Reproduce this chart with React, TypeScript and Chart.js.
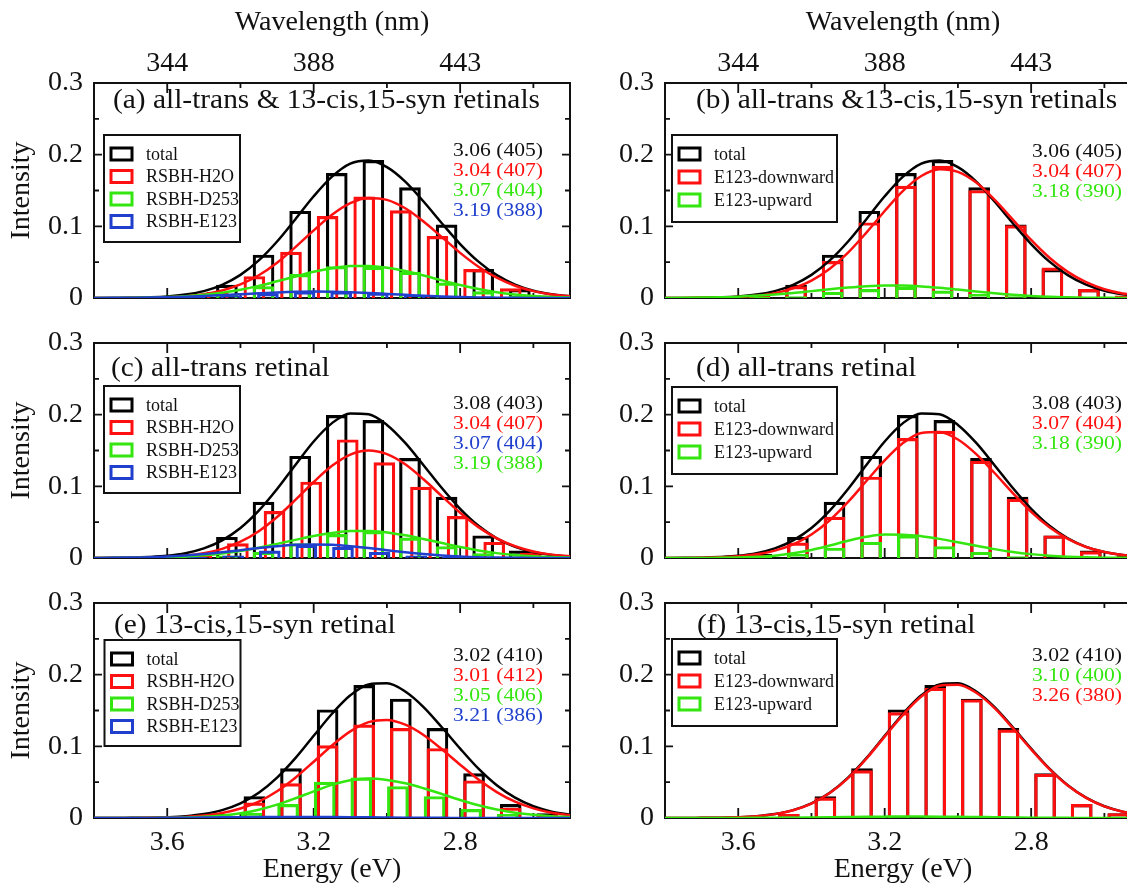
import React, { useEffect, useRef } from "react";
import { Chart, registerables } from "chart.js";

Chart.register(...registerables);

const FONT = "'Liberation Serif', 'Times New Roman', Times, serif";
const INK = "#111111";
const BLACK = "#000000";
const RED = "#ff1010";
const GREEN = "#33e60f";
const BLUE = "#1f3fcc";

// ---------- axes / ticks ----------
const BIN_CENTERS = [3.75, 3.65, 3.55, 3.45, 3.35, 3.25, 3.15, 3.05, 2.95, 2.85, 2.75, 2.65, 2.55];
const FIT_ENERGY = [3.8, 3.75, 3.7, 3.65, 3.6, 3.55, 3.5, 3.45, 3.4, 3.35, 3.3, 3.25, 3.2, 3.15, 3.1, 3.05, 3.0, 2.95, 2.9, 2.85, 2.8, 2.75, 2.7, 2.65, 2.6, 2.55, 2.5];
const ENERGY_TICKS = [3.6, 3.2, 2.8];
const ENERGY_MINOR = [3.4, 3.0, 2.6];
const ENERGY_TICK_LABELS = ["3.6", "3.2", "2.8"];
const WAVELENGTH_TICK_LABELS = ["344", "388", "443"];
const INTENSITY_TICKS = [0, 0.1, 0.2, 0.3];
const INTENSITY_MINOR = [0.05, 0.15, 0.25];
const INTENSITY_TICK_LABELS = ["0", "0.1", "0.2", "0.3"];

// ---------- histogram bars (per bin) ----------
const AB_TOTAL_BARS = [0, 0.001, 0.004, 0.018, 0.060, 0.121, 0.174, 0.192, 0.154, 0.102, 0.040, 0.012, 0.002];
const A_H2O_BARS = [0, 0, 0.002, 0.008, 0.030, 0.064, 0.114, 0.141, 0.122, 0.086, 0.040, 0.013, 0.003];
const A_D253_BARS = [0, 0, 0.001, 0.004, 0.016, 0.033, 0.044, 0.043, 0.036, 0.021, 0.009, 0.003, 0];
const A_E123_BARS = [0, 0, 0.001, 0.003, 0.006, 0.009, 0.009, 0.007, 0.004, 0.002, 0.001, 0, 0];
const B_DOWN_BARS = [0, 0, 0.003, 0.016, 0.051, 0.105, 0.156, 0.184, 0.150, 0.101, 0.042, 0.012, 0.003];
const B_UP_BARS = [0, 0, 0.001, 0.002, 0.008, 0.012, 0.015, 0.010, 0.005, 0.002, 0, 0, 0];
const CD_TOTAL_BARS = [0, 0.001, 0.005, 0.029, 0.078, 0.142, 0.199, 0.192, 0.139, 0.085, 0.031, 0.010, 0.003];
const C_H2O_BARS = [0, 0, 0.003, 0.020, 0.065, 0.106, 0.165, 0.133, 0.099, 0.058, 0.022, 0.007, 0.002];
const C_D253_BARS = [0, 0, 0.001, 0.003, 0.008, 0.020, 0.033, 0.037, 0.028, 0.016, 0.006, 0.002, 0];
const C_E123_BARS = [0, 0, 0.001, 0.003, 0.010, 0.018, 0.015, 0.008, 0.003, 0.001, 0, 0, 0];
const D_DOWN_BARS = [0, 0, 0.004, 0.021, 0.057, 0.113, 0.167, 0.177, 0.135, 0.082, 0.031, 0.009, 0.002];
const D_UP_BARS = [0, 0, 0.001, 0.005, 0.014, 0.022, 0.031, 0.016, 0.008, 0.002, 0, 0, 0];
const EF_TOTAL_BARS = [0, 0, 0.001, 0.005, 0.030, 0.069, 0.151, 0.185, 0.166, 0.125, 0.062, 0.019, 0.006];
const E_H2O_BARS = [0, 0, 0, 0.002, 0.021, 0.048, 0.101, 0.130, 0.125, 0.097, 0.052, 0.014, 0.004];
const E_D253_BARS = [0, 0, 0, 0.001, 0.007, 0.019, 0.050, 0.056, 0.044, 0.030, 0.012, 0.005, 0.001];
const E_E123_BARS = [0, 0, 0, 0, 0.001, 0.001, 0.001, 0, 0, 0, 0, 0, 0];
const F_DOWN_BARS = [0, 0, 0.001, 0.005, 0.028, 0.066, 0.147, 0.181, 0.165, 0.123, 0.061, 0.019, 0.006];
const F_UP_BARS = [0, 0, 0, 0, 0.001, 0.002, 0.002, 0.002, 0.002, 0.001, 0.001, 0, 0];

// ---------- fitted curves (on FIT_ENERGY) ----------
const AB_TOTAL_FIT = [0, 0.0001, 0.0003, 0.0009, 0.0021, 0.0048, 0.0096, 0.0184, 0.0323, 0.0524, 0.0789, 0.110, 0.1419, 0.1693, 0.1874, 0.1918, 0.1826, 0.1624, 0.1346, 0.1043, 0.0753, 0.0507, 0.0319, 0.0187, 0.0102, 0.0052, 0.0025];
const A_H2O_FIT = [0, 0.0001, 0.0002, 0.0004, 0.0011, 0.0025, 0.0053, 0.0105, 0.0189, 0.0318, 0.0493, 0.0710, 0.0944, 0.1162, 0.1324, 0.1397, 0.1369, 0.1252, 0.1067, 0.0850, 0.0630, 0.0437, 0.0283, 0.0171, 0.0096, 0.0050, 0.0025];
const A_D253_FIT = [0.0001, 0.0001, 0.0003, 0.0007, 0.0014, 0.0026, 0.0045, 0.0074, 0.0115, 0.0169, 0.0233, 0.0300, 0.0365, 0.0415, 0.0445, 0.0448, 0.0423, 0.0376, 0.0314, 0.0246, 0.0181, 0.0125, 0.0081, 0.0050, 0.0029, 0.0015, 0.0008];
const A_E123_FIT = [0.0001, 0.0002, 0.0004, 0.0006, 0.0011, 0.0018, 0.0027, 0.0039, 0.0052, 0.0065, 0.0077, 0.0086, 0.0090, 0.0088, 0.0081, 0.0070, 0.0057, 0.0044, 0.0031, 0.0021, 0.0013, 0.0008, 0.0005, 0.0002, 0.0001, 0, 0];
const B_DOWN_FIT = [0, 0.0001, 0.0003, 0.0005, 0.0014, 0.0032, 0.0068, 0.0135, 0.0243, 0.0409, 0.0634, 0.0913, 0.1214, 0.1494, 0.1702, 0.1796, 0.1760, 0.1610, 0.1372, 0.1093, 0.0810, 0.0562, 0.0364, 0.0220, 0.0123, 0.0064, 0.0032];
const B_UP_FIT = [0.0001, 0.0003, 0.0006, 0.0011, 0.0019, 0.0033, 0.0049, 0.0070, 0.0096, 0.0122, 0.0146, 0.0165, 0.0174, 0.0173, 0.0162, 0.0142, 0.0117, 0.0090, 0.0066, 0.0045, 0.0029, 0.0017, 0.0010, 0.0005, 0.0003, 0.0001, 0];
const CD_TOTAL_FIT = [0.0001, 0.0002, 0.0005, 0.0014, 0.0031, 0.0067, 0.0134, 0.0246, 0.0418, 0.0660, 0.0962, 0.1299, 0.1626, 0.1882, 0.2018, 0.2006, 0.1857, 0.1606, 0.1295, 0.0976, 0.0686, 0.0449, 0.0274, 0.0156, 0.0083, 0.0041, 0.0019];
const C_H2O_FIT = [0, 0.0001, 0.0002, 0.0006, 0.0014, 0.0032, 0.0066, 0.0128, 0.0227, 0.0374, 0.0572, 0.0810, 0.1061, 0.1286, 0.1443, 0.1500, 0.1449, 0.1307, 0.1098, 0.0863, 0.0632, 0.0431, 0.0275, 0.0164, 0.0091, 0.0047, 0.0023];
const C_D253_FIT = [0.0001, 0.0001, 0.0003, 0.0006, 0.0012, 0.0022, 0.0038, 0.0062, 0.0097, 0.0143, 0.0197, 0.0253, 0.0308, 0.0350, 0.0376, 0.0378, 0.0357, 0.0317, 0.0265, 0.0208, 0.0153, 0.0106, 0.0068, 0.0042, 0.0024, 0.0013, 0.0007];
const C_E123_FIT = [0.0001, 0.0003, 0.0006, 0.0011, 0.0021, 0.0035, 0.0055, 0.0080, 0.0109, 0.0139, 0.0165, 0.0184, 0.0190, 0.0184, 0.0165, 0.0139, 0.0109, 0.0080, 0.0055, 0.0035, 0.0021, 0.0011, 0.0006, 0.0003, 0.0001, 0.0001, 0];
const D_DOWN_FIT = [0, 0.0001, 0.0004, 0.0010, 0.0023, 0.0051, 0.0103, 0.0191, 0.0329, 0.0527, 0.0782, 0.1074, 0.1363, 0.1604, 0.1745, 0.1759, 0.1653, 0.1450, 0.1186, 0.0906, 0.0644, 0.0428, 0.0266, 0.0154, 0.0083, 0.0042, 0.0020];
const D_UP_FIT = [0, 0, 0.0001, 0.0002, 0.0007, 0.0016, 0.0033, 0.0065, 0.0112, 0.0174, 0.0240, 0.0296, 0.0327, 0.0326, 0.0305, 0.0267, 0.0220, 0.0171, 0.0124, 0.0084, 0.0054, 0.0033, 0.0019, 0.0010, 0.0005, 0.0002, 0.0001];
const EF_TOTAL_FIT = [0, 0, 0.0002, 0.0004, 0.0011, 0.0025, 0.0055, 0.0110, 0.0204, 0.0352, 0.0563, 0.0835, 0.1147, 0.1455, 0.1712, 0.1864, 0.1879, 0.1765, 0.1548, 0.1266, 0.0968, 0.0688, 0.0457, 0.0284, 0.0164, 0.0089, 0.0045];
const E_H2O_FIT = [0, 0, 0.0001, 0.0002, 0.0006, 0.0015, 0.0034, 0.0069, 0.0132, 0.0230, 0.0374, 0.0563, 0.0785, 0.1012, 0.1208, 0.1337, 0.1369, 0.1303, 0.1159, 0.0960, 0.0744, 0.0537, 0.0362, 0.0227, 0.0134, 0.0073, 0.0037];
const E_D253_FIT = [0, 0, 0, 0.0001, 0.0003, 0.0007, 0.0016, 0.0034, 0.0066, 0.0116, 0.0186, 0.0275, 0.0372, 0.0462, 0.0527, 0.0550, 0.0530, 0.0485, 0.0415, 0.0334, 0.0252, 0.0179, 0.0119, 0.0074, 0.0044, 0.0024, 0.0013];
const E_E123_FIT = [0, 0, 0, 0.0001, 0.0002, 0.0004, 0.0006, 0.0009, 0.0012, 0.0014, 0.0015, 0.0015, 0.0015, 0.0014, 0.0012, 0.0009, 0.0007, 0.0005, 0.0003, 0.0002, 0.0001, 0, 0, 0, 0, 0, 0];
const F_DOWN_FIT = [0, 0, 0.0002, 0.0004, 0.0011, 0.0025, 0.0054, 0.0109, 0.0202, 0.0348, 0.0557, 0.0827, 0.1136, 0.1440, 0.1695, 0.1845, 0.1860, 0.1747, 0.1533, 0.1253, 0.0958, 0.0681, 0.0452, 0.0281, 0.0162, 0.0088, 0.0045];
const F_UP_FIT = [0, 0, 0, 0, 0.0001, 0.0002, 0.0003, 0.0005, 0.0008, 0.0011, 0.0014, 0.0017, 0.0019, 0.0020, 0.0020, 0.0019, 0.0017, 0.0014, 0.0011, 0.0008, 0.0005, 0.0003, 0.0002, 0.0001, 0, 0, 0];

// ---------- panel texts ----------
const TITLES = [
  "(a) all-trans & 13-cis,15-syn retinals",
  "(b) all-trans &13-cis,15-syn retinals",
  "(c) all-trans retinal",
  "(d) all-trans retinal",
  "(e) 13-cis,15-syn retinal",
  "(f) 13-cis,15-syn retinal",
];
const LEFT_LABELS = ["total", "RSBH-H2O", "RSBH-D253", "RSBH-E123"];
const RIGHT_LABELS = ["total", "E123-downward", "E123-upward"];

type Series = { label: string; color: string; bars: number[]; fit: number[]; shift: number };
type Note = { text: string; color: string };
type Panel = {
  key: string; row: number; col: number; title: string;
  series: Series[]; notes: Note[];
  titleDx: number; titleDy: number;
  legendDx: number; legendDy: number; legendW: number; legendH: number; legendGap: number;
  notesDx: number; notesDy: number;
};

const COLS = [
  { x: 0, axisW: 94, width: 573 },
  { x: 600, axisW: 65, width: 544 },
];
const ROWS = [
  { y: 0, topH: 83, bottomH: 17, height: 315 },
  { y: 320, topH: 23, bottomH: 17, height: 255 },
  { y: 580, topH: 23, bottomH: 70, height: 308 },
];

const PANELS: Panel[] = [
  {
    key: "a", row: 0, col: 0, title: TITLES[0],
    series: [
      { label: LEFT_LABELS[0], color: BLACK, bars: AB_TOTAL_BARS, fit: AB_TOTAL_FIT, shift: -0.013 },
      { label: LEFT_LABELS[1], color: RED, bars: A_H2O_BARS, fit: A_H2O_FIT, shift: 0.012 },
      { label: LEFT_LABELS[2], color: GREEN, bars: A_D253_BARS, fit: A_D253_FIT, shift: -0.013 },
      { label: LEFT_LABELS[3], color: BLUE, bars: A_E123_BARS, fit: A_E123_FIT, shift: -0.025 },
    ],
    notes: [
      { text: "3.06 (405)", color: INK }, { text: "3.04 (407)", color: RED },
      { text: "3.07 (404)", color: GREEN }, { text: "3.19 (388)", color: BLUE },
    ],
    titleDx: 19, titleDy: 25, legendDx: 10, legendDy: 52, legendW: 136, legendH: 107, legendGap: 22.5,
    notesDx: -27, notesDy: 73,
  },
  {
    key: "b", row: 0, col: 1, title: TITLES[1],
    series: [
      { label: RIGHT_LABELS[0], color: BLACK, bars: AB_TOTAL_BARS, fit: AB_TOTAL_FIT, shift: -0.008 },
      { label: RIGHT_LABELS[1], color: RED, bars: B_DOWN_BARS, fit: B_DOWN_FIT, shift: -0.008 },
      { label: RIGHT_LABELS[2], color: GREEN, bars: B_UP_BARS, fit: B_UP_FIT, shift: -0.008 },
    ],
    notes: [
      { text: "3.06 (405)", color: INK }, { text: "3.04 (407)", color: RED },
      { text: "3.18 (390)", color: GREEN },
    ],
    titleDx: 31, titleDy: 25, legendDx: 7, legendDy: 52, legendW: 165, legendH: 87, legendGap: 23,
    notesDx: -19, notesDy: 74,
  },
  {
    key: "c", row: 1, col: 0, title: TITLES[2],
    series: [
      { label: LEFT_LABELS[0], color: BLACK, bars: CD_TOTAL_BARS, fit: CD_TOTAL_FIT, shift: -0.013 },
      { label: LEFT_LABELS[1], color: RED, bars: C_H2O_BARS, fit: C_H2O_FIT, shift: -0.043 },
      { label: LEFT_LABELS[2], color: GREEN, bars: C_D253_BARS, fit: C_D253_FIT, shift: -0.013 },
      { label: LEFT_LABELS[3], color: BLUE, bars: C_E123_BARS, fit: C_E123_FIT, shift: -0.03 },
    ],
    notes: [
      { text: "3.08 (403)", color: INK }, { text: "3.04 (407)", color: RED },
      { text: "3.07 (404)", color: BLUE }, { text: "3.19 (388)", color: GREEN },
    ],
    titleDx: 17, titleDy: 33, legendDx: 10, legendDy: 43, legendW: 136, legendH: 107, legendGap: 22.5,
    notesDx: -27, notesDy: 66,
  },
  {
    key: "d", row: 1, col: 1, title: TITLES[3],
    series: [
      { label: RIGHT_LABELS[0], color: BLACK, bars: CD_TOTAL_BARS, fit: CD_TOTAL_FIT, shift: -0.013 },
      { label: RIGHT_LABELS[1], color: RED, bars: D_DOWN_BARS, fit: D_DOWN_FIT, shift: -0.013 },
      { label: RIGHT_LABELS[2], color: GREEN, bars: D_UP_BARS, fit: D_UP_FIT, shift: -0.013 },
    ],
    notes: [
      { text: "3.08 (403)", color: INK }, { text: "3.07 (404)", color: RED },
      { text: "3.18 (390)", color: GREEN },
    ],
    titleDx: 31, titleDy: 33, legendDx: 7, legendDy: 44, legendW: 165, legendH: 87, legendGap: 23,
    notesDx: -19, notesDy: 66,
  },
  {
    key: "e", row: 2, col: 0, title: TITLES[4],
    series: [
      { label: LEFT_LABELS[0], color: BLACK, bars: EF_TOTAL_BARS, fit: EF_TOTAL_FIT, shift: 0.012 },
      { label: LEFT_LABELS[1], color: RED, bars: E_H2O_BARS, fit: E_H2O_FIT, shift: 0.012 },
      { label: LEFT_LABELS[2], color: GREEN, bars: E_D253_BARS, fit: E_D253_FIT, shift: 0.02 },
      { label: LEFT_LABELS[3], color: BLUE, bars: E_E123_BARS, fit: E_E123_FIT, shift: 0.012 },
    ],
    notes: [
      { text: "3.02 (410)", color: INK }, { text: "3.01 (412)", color: RED },
      { text: "3.05 (406)", color: GREEN }, { text: "3.21 (386)", color: BLUE },
    ],
    titleDx: 20, titleDy: 30, legendDx: 10.5, legendDy: 37, legendW: 136, legendH: 106, legendGap: 22.5,
    notesDx: -27, notesDy: 58,
  },
  {
    key: "f", row: 2, col: 1, title: TITLES[5],
    series: [
      { label: RIGHT_LABELS[0], color: BLACK, bars: EF_TOTAL_BARS, fit: EF_TOTAL_FIT, shift: 0.012 },
      { label: RIGHT_LABELS[1], color: RED, bars: F_DOWN_BARS, fit: F_DOWN_FIT, shift: 0.012 },
      { label: RIGHT_LABELS[2], color: GREEN, bars: F_UP_BARS, fit: F_UP_FIT, shift: 0.012 },
    ],
    notes: [
      { text: "3.02 (410)", color: INK }, { text: "3.10 (400)", color: GREEN },
      { text: "3.26 (380)", color: RED },
    ],
    titleDx: 32, titleDy: 30, legendDx: 7, legendDy: 36, legendW: 165, legendH: 87, legendGap: 23,
    notesDx: -19, notesDy: 58,
  },
];

function buildConfig(panel: Panel) {
  const row = ROWS[panel.row];
  const col = COLS[panel.col];
  const n = panel.series.length;

  const barSets = panel.series.map((s, k) => ({
    type: "bar",
    label: s.label,
    data: BIN_CENTERS.map((e, i) => ({ x: e + s.shift, y: s.bars[i] })),
    backgroundColor: "rgba(255,255,255,0)",
    borderColor: s.color,
    borderWidth: 2.5,
    barThickness: 21,
    grouped: false,
    order: 20 + n - k,
    xAxisID: "x",
    yAxisID: "y",
  }));
  const lineSets = panel.series.map((s, k) => ({
    type: "line",
    label: s.label + " fit",
    data: FIT_ENERGY.map((e, i) => ({ x: e, y: s.fit[i] })),
    borderColor: s.color,
    backgroundColor: s.color,
    borderWidth: 2.5,
    pointRadius: 0,
    cubicInterpolationMode: "monotone",
    fill: false,
    order: 1 + n - k,
    xAxisID: "x",
    yAxisID: "y",
  }));

  const tickFont = { family: FONT, size: 28 };
  const titleFont = { family: FONT, size: 28 };

  const decor = {
    id: "decor" + panel.key,
    beforeDatasetsDraw(chart: any) {
      const { ctx, chartArea: a } = chart;
      const xs = chart.scales.x;
      const ys = chart.scales.y;
      ctx.save();
      ctx.strokeStyle = INK;
      ctx.lineWidth = 2;
      ctx.strokeRect(a.left, a.top, a.right - a.left, a.bottom - a.top);
      ctx.lineWidth = 1.8;
      ctx.beginPath();
      const xt = (v: number, len: number) => {
        const p = xs.getPixelForValue(v);
        ctx.moveTo(p, a.bottom);
        ctx.lineTo(p, a.bottom - len);
        ctx.moveTo(p, a.top);
        ctx.lineTo(p, a.top + len);
      };
      const yt = (v: number, len: number) => {
        const p = ys.getPixelForValue(v);
        ctx.moveTo(a.left, p);
        ctx.lineTo(a.left + len, p);
        ctx.moveTo(a.right, p);
        ctx.lineTo(a.right - len, p);
      };
      ENERGY_TICKS.forEach((v) => xt(v, 10));
      ENERGY_MINOR.forEach((v) => xt(v, 5));
      INTENSITY_TICKS.slice(1, 3).forEach((v) => yt(v, 8));
      INTENSITY_MINOR.forEach((v) => yt(v, 5));
      ctx.stroke();
      ctx.restore();
    },
    afterDatasetsDraw(chart: any) {
      const { ctx, chartArea: a } = chart;
      ctx.save();
      // panel title
      ctx.fillStyle = INK;
      ctx.font = `28px ${FONT}`;
      ctx.textAlign = "left";
      ctx.textBaseline = "alphabetic";
      ctx.save();
      ctx.translate(a.left + panel.titleDx, a.top + panel.titleDy);
      ctx.scale(1.05, 1);
      ctx.fillText(panel.title, 0, 0);
      ctx.restore();

      // legend
      const lx = a.left + panel.legendDx;
      const ly = a.top + panel.legendDy;
      ctx.fillStyle = "#ffffff";
      ctx.fillRect(lx, ly, panel.legendW, panel.legendH);
      ctx.strokeStyle = INK;
      ctx.lineWidth = 2;
      ctx.strokeRect(lx, ly, panel.legendW, panel.legendH);
      ctx.font = `18px ${FONT}`;
      ctx.textBaseline = "middle";
      panel.series.forEach((s, k) => {
        const cy = ly + 19 + k * panel.legendGap;
        ctx.strokeStyle = s.color;
        ctx.lineWidth = 3;
        ctx.strokeRect(lx + 7, cy - 6, 21, 12);
        ctx.fillStyle = INK;
        ctx.fillText(s.label, lx + 42, cy + 1);
      });

      // peak notes
      ctx.font = `18px ${FONT}`;
      ctx.textAlign = "right";
      ctx.textBaseline = "alphabetic";
      panel.notes.forEach((nt, k) => {
        ctx.save();
        ctx.translate(a.right + panel.notesDx, a.top + panel.notesDy + k * 20);
        ctx.scale(1.2, 1);
        ctx.fillStyle = nt.color;
        ctx.fillText(nt.text, 0, 0);
        ctx.restore();
      });
      ctx.restore();
    },
  };

  const energyLabel = (v: any) => {
    const i = ENERGY_TICKS.indexOf(Number(v));
    return i >= 0 ? ENERGY_TICK_LABELS[i] : "";
  };
  const waveLabel = (v: any) => {
    const i = ENERGY_TICKS.indexOf(Number(v));
    return i >= 0 ? WAVELENGTH_TICK_LABELS[i] : "";
  };
  const intensityLabel = (v: any) => {
    const i = INTENSITY_TICKS.indexOf(Number(v));
    return i >= 0 ? INTENSITY_TICK_LABELS[i] : "";
  };

  return {
    type: "bar",
    data: { datasets: [...barSets, ...lineSets] },
    plugins: [decor],
    options: {
      responsive: false,
      maintainAspectRatio: false,
      animation: false,
      devicePixelRatio: 1,
      layout: { padding: { left: 0, right: 3, top: 0, bottom: 0 } },
      plugins: { legend: { display: false }, tooltip: { enabled: false }, title: { display: false } },
      scales: {
        x: {
          type: "linear",
          position: "bottom",
          min: 2.5,
          max: 3.8,
          reverse: true,
          offset: false,
          grid: { display: false, drawTicks: false, offset: false },
          border: { display: false },
          afterBuildTicks: (s: any) => {
            s.ticks = ENERGY_TICKS.map((v) => ({ value: v }));
          },
          ticks: {
            display: panel.row === 2,
            font: tickFont,
            color: INK,
            padding: 8,
            maxRotation: 0,
            autoSkip: false,
            callback: energyLabel,
          },
          title: {
            display: panel.row === 2,
            text: "Energy (eV)",
            font: titleFont,
            color: INK,
            padding: { top: 0, bottom: 2 },
          },
          afterFit: (s: any) => {
            s.height = row.bottomH;
            s.paddingLeft = 0;
            s.paddingRight = 0;
          },
        },
        x2: {
          type: "linear",
          position: "top",
          min: 2.5,
          max: 3.8,
          reverse: true,
          offset: false,
          grid: { display: false, drawTicks: false, offset: false },
          border: { display: false },
          afterBuildTicks: (s: any) => {
            s.ticks = ENERGY_TICKS.map((v) => ({ value: v }));
          },
          ticks: {
            display: panel.row === 0,
            font: tickFont,
            color: INK,
            padding: 3,
            maxRotation: 0,
            autoSkip: false,
            callback: waveLabel,
          },
          title: {
            display: panel.row === 0,
            text: "Wavelength (nm)",
            font: titleFont,
            color: INK,
            padding: { top: 6, bottom: 0 },
          },
          afterFit: (s: any) => {
            s.height = row.topH;
            s.paddingLeft = 0;
            s.paddingRight = 0;
          },
        },
        y: {
          type: "linear",
          position: "left",
          min: 0,
          max: 0.3,
          grid: { display: false, drawTicks: false },
          border: { display: false },
          afterBuildTicks: (s: any) => {
            s.ticks = INTENSITY_TICKS.map((v) => ({ value: v }));
          },
          ticks: {
            font: tickFont,
            color: INK,
            padding: 11,
            autoSkip: false,
            callback: intensityLabel,
          },
          title: {
            display: panel.col === 0,
            text: "Intensity",
            font: titleFont,
            color: INK,
            padding: { top: 5, bottom: 0 },
          },
          afterFit: (s: any) => {
            s.width = col.axisW;
            s.paddingTop = 0;
            s.paddingBottom = 0;
          },
        },
      },
    },
  };
}

function PanelChart({ panel }: { panel: Panel }) {
  const ref = useRef<HTMLCanvasElement | null>(null);
  const row = ROWS[panel.row];
  const col = COLS[panel.col];
  useEffect(() => {
    if (!ref.current) return;
    const chart = new Chart(ref.current, buildConfig(panel) as any);
    return () => chart.destroy();
  }, [panel]);
  return (
    <canvas
      ref={ref}
      width={col.width}
      height={row.height}
      style={{ position: "absolute", left: col.x, top: row.y, width: col.width, height: row.height }}
    />
  );
}

export default function App() {
  useEffect(() => {
    document.body.style.overflow = "hidden";
  }, []);
  return (
    <div
      style={{
        position: "relative",
        width: 1135,
        height: 888,
        marginLeft: -8,
        marginTop: -8,
        overflow: "hidden",
        background: "#ffffff",
      }}
    >
      {PANELS.map((p) => (
        <PanelChart key={p.key} panel={p} />
      ))}
    </div>
  );
}
